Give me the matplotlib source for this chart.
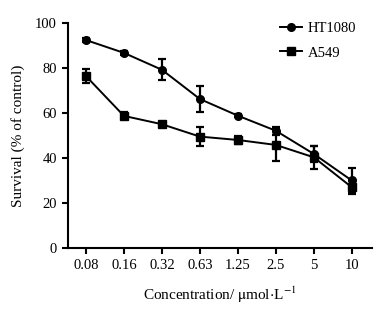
import matplotlib
matplotlib.use("Agg")
import matplotlib.pyplot as plt

# concentrations (categorical x), survival % of control
conc = ["0.08", "0.16", "0.32", "0.63", "1.25", "2.5", "5", "10"]
ht1080 = [92.4, 86.7, 79.2, 66.2, 58.8, 52.1, 41.8, 30.0]
ht1080_err = [0.8, 0.8, 4.6, 5.7, 0.8, 1.8, 3.5, 5.5]
a549 = [76.4, 58.7, 55.0, 49.5, 48.0, 45.8, 40.3, 27.0]
a549_err = [3.0, 1.6, 0.9, 4.3, 1.7, 7.2, 5.0, 3.0]

plt.rcParams["font.family"] = ["Liberation Serif", "DejaVu Serif"]
plt.rcParams["mathtext.fontset"] = "stix"

fig = plt.figure(figsize=(3.89, 3.10), dpi=100)
ax = fig.add_axes([0.175, 0.2, 0.781, 0.726])

x = list(range(len(conc)))
style = dict(color="black", lw=1.4, elinewidth=1.6, capsize=3, capthick=1.6)
ax.errorbar(x, ht1080, yerr=ht1080_err, marker="o", ms=5.5,
            label="HT1080", **style)
ax.errorbar(x, a549, yerr=a549_err, marker="s", ms=5.5,
            label="A549", **style)

ax.set_xlim(-0.47, 7.53)
ax.set_ylim(0, 100)
ax.set_xticks(x)
ax.set_xticklabels(conc)
ax.set_yticks([0, 20, 40, 60, 80, 100])
ax.spines["top"].set_visible(False)
ax.spines["right"].set_visible(False)
for s in ["left", "bottom"]:
    ax.spines[s].set_linewidth(1.5)
ax.tick_params(width=1.5, length=4, labelsize=10.5, pad=4)

ax.set_xlabel(r"Concentration/ $\mathrm{\mu}$mol$\cdot$L$^{-1}$",
              fontsize=11, labelpad=9)
ax.set_ylabel("Survival (% of control)", fontsize=11, labelpad=7)

handles, labels = ax.get_legend_handles_labels()
handles = [h[0] for h in handles]
ax.legend(handles, labels, loc="upper left", frameon=False, fontsize=10.5,
          handlelength=1.5, handletextpad=0.4, labelspacing=0.8,
          bbox_to_anchor=(0.655, 1.065))

fig.savefig("out.png", dpi=100)
